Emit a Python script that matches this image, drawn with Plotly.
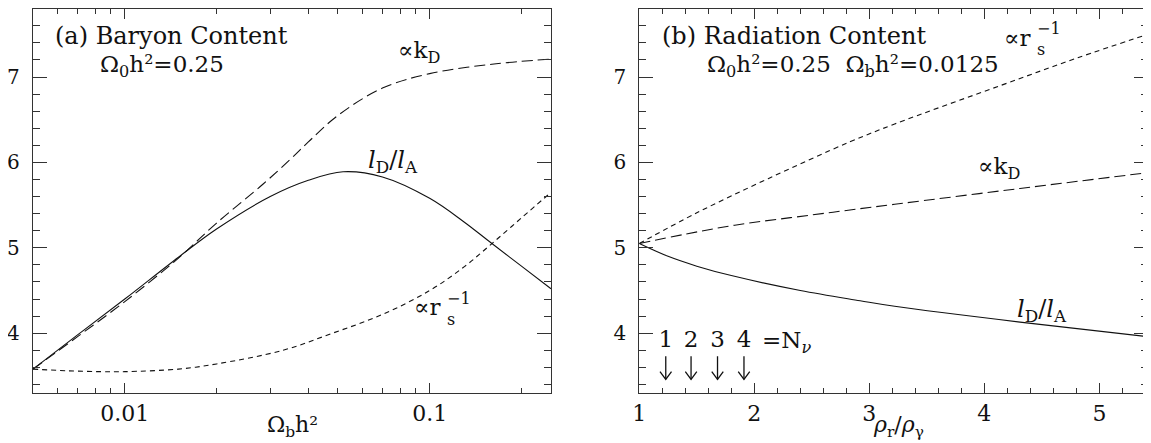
import plotly.graph_objects as go
import numpy as np

# ---------------- data: panel (a) Baryon content ----------------
a_ratio_x = [0.005, 0.007, 0.01, 0.015, 0.02, 0.03, 0.04, 0.052, 0.07, 0.1, 0.13, 0.16, 0.2, 0.25]
a_ratio_y = [3.58, 3.98, 4.40, 4.89, 5.22, 5.60, 5.79, 5.89, 5.83, 5.58, 5.30, 5.05, 4.785, 4.52]

a_kd_x = [0.005, 0.007, 0.01, 0.015, 0.02, 0.0285, 0.035, 0.04, 0.05, 0.07, 0.1, 0.16, 0.25]
a_kd_y = [3.58, 3.96, 4.37, 4.88, 5.29, 5.75, 6.04, 6.24, 6.55, 6.87, 7.04, 7.15, 7.21]

a_rs_x = [0.005, 0.0065, 0.0083, 0.01, 0.015, 0.02, 0.033, 0.048, 0.07, 0.1, 0.13, 0.16, 0.2, 0.25]
a_rs_y = [3.58, 3.56, 3.55, 3.55, 3.58, 3.64, 3.80, 4.00, 4.22, 4.50, 4.78, 5.05, 5.35, 5.65]

# ---------------- data: panel (b) Radiation content ----------------
b_rs_x = [1.0, 1.5, 2.12, 2.83, 3.22, 4.14, 4.8, 5.42]
b_rs_y = [5.05, 5.41, 5.81, 6.24, 6.45, 6.90, 7.22, 7.50]

b_kd_x = [1.0, 1.4, 1.83, 2.5, 3.22, 4.31, 5.42]
b_kd_y = [5.05, 5.16, 5.265, 5.385, 5.51, 5.695, 5.88]

b_ratio_x = [1.0, 1.25, 1.5, 1.8, 2.4, 2.92, 3.22, 4.31, 5.42]
b_ratio_y = [5.05, 4.90, 4.785, 4.675, 4.50, 4.38, 4.315, 4.13, 3.96]

nnu_labels = ["1", "2", "3", "4"]
nnu_x = [1.23, 1.45, 1.68, 1.91]

a_xrange = [0.005, 0.25]
b_xrange = [1.0, 5.42]
yrange = [3.3, 7.8]

# ---------------- geometry (page body has an 8px margin) ----------------
OFF = 8
W, H = 1151 - OFF, 443 - OFF

FONT = "DejaVu Serif"
LINE = "#111111"
FRAME = "#333333"

def fx(px):
    return (px - OFF) / W

def fy(py):
    return 1 - (py - OFF) / H

fig = go.Figure()

short_dash = "5px,4px"
long_dash = "11px,5px"
lw = 1.1

fig.add_trace(go.Scatter(x=a_ratio_x, y=a_ratio_y, mode="lines", line=dict(color=LINE, width=lw, shape="spline"), xaxis="x", yaxis="y"))
fig.add_trace(go.Scatter(x=a_kd_x, y=a_kd_y, mode="lines", line=dict(color=LINE, width=lw, dash=long_dash, shape="spline"), xaxis="x", yaxis="y"))
fig.add_trace(go.Scatter(x=a_rs_x, y=a_rs_y, mode="lines", line=dict(color=LINE, width=lw, dash=short_dash, shape="spline"), xaxis="x", yaxis="y"))

fig.add_trace(go.Scatter(x=b_rs_x, y=b_rs_y, mode="lines", line=dict(color=LINE, width=lw, dash=short_dash, shape="spline"), xaxis="x2", yaxis="y2"))
fig.add_trace(go.Scatter(x=b_kd_x, y=b_kd_y, mode="lines", line=dict(color=LINE, width=lw, dash=long_dash, shape="spline"), xaxis="x2", yaxis="y2"))
fig.add_trace(go.Scatter(x=b_ratio_x, y=b_ratio_y, mode="lines", line=dict(color=LINE, width=lw, shape="spline"), xaxis="x2", yaxis="y2"))

# N_nu labels
fig.add_trace(go.Scatter(x=nnu_x, y=[3.91] * 4, mode="text", text=nnu_labels,
                         textfont=dict(family=FONT, size=23, color=LINE), xaxis="x2", yaxis="y2"))

# thin open arrows under each N_nu label (built from nnu_x)
shaft_top, tip, head_h, head_w = 3.73, 3.46, 0.09, 0.05
ax_, ay_ = [], []
for xv in nnu_x:
    ax_ += [xv, xv, None, xv - head_w, xv, xv + head_w, None]
    ay_ += [shaft_top, tip, None, tip + head_h, tip, tip + head_h, None]
fig.add_trace(go.Scatter(x=ax_, y=ay_, mode="lines", line=dict(color=LINE, width=1.3),
                         xaxis="x2", yaxis="y2", hoverinfo="skip"))

dom_a = [fx(33), fx(551)]
dom_b = [fx(639.3), fx(1147.7)]
dom_y = [fy(393), min(fy(8.7), 1.0)]

tickfont = dict(family=FONT, size=22, color="#111")
ytickfont = dict(family=FONT, size=20, color="#111")

a_minor = [v * 10 ** e for e in (-3, -2, -1) for v in range(2, 10)]
a_minor = [v for v in a_minor if a_xrange[0] <= v <= a_xrange[1] and abs(v - 0.01) > 1e-9 and abs(v - 0.1) > 1e-9]

common = dict(ticks="inside", showline=True, linecolor=FRAME, linewidth=1.3, mirror="ticks",
              tickcolor=FRAME, tickwidth=1.2, showgrid=False, zeroline=False,
              automargin=False)

fig.update_layout(
    width=W, height=H,
    margin=dict(l=0, r=0, t=0, b=0, autoexpand=False),
    paper_bgcolor="white", plot_bgcolor="white",
    showlegend=False,
    xaxis=dict(type="log", domain=dom_a, range=[np.log10(a_xrange[0]), np.log10(a_xrange[1])],
               tickvals=[0.01, 0.1], ticktext=["0.01", "0.1"], ticklen=10, tickfont=tickfont,
               minor=dict(tickvals=a_minor, ticklen=5, tickcolor=FRAME, tickwidth=1.2, ticks="inside"),
               ticklabelstandoff=0, anchor="y", **common),
    yaxis=dict(domain=dom_y, range=yrange, tickvals=[4, 5, 6, 7], ticklen=14, tickfont=ytickfont,
               minor=dict(dtick=0.2, ticklen=7, tickcolor=FRAME, tickwidth=1.2, ticks="inside"),
               ticklabelstandoff=8, anchor="x", **common),
    xaxis2=dict(domain=dom_b, range=b_xrange, tickvals=[1, 2, 3, 4, 5], ticklen=10, tickfont=tickfont,
                minor=dict(dtick=0.2, ticklen=5, tickcolor=FRAME, tickwidth=1.2, ticks="inside"),
                ticklabelstandoff=0, anchor="y2", **common),
    yaxis2=dict(domain=dom_y, range=yrange, tickvals=[4, 5, 6, 7], ticklen=14, tickfont=ytickfont,
                minor=dict(dtick=0.2, ticklen=7, tickcolor=FRAME, tickwidth=1.2, ticks="inside"),
                ticklabelstandoff=8, anchor="x2", **common),
)

def label(text, x, y, size=23, xanchor="left"):
    fig.add_annotation(text=text, x=fx(x), y=fy(y), xref="paper", yref="paper", showarrow=False,
                       xanchor=xanchor, yanchor="middle", font=dict(family=FONT, size=size, color="#111"))

def rs_label(x, y):
    # "∝ r" with stacked subscript s and superscript −1
    label("∝r", x, y)
    label("s", x + 33, y + 12, size=16)
    label("−1", x + 33, y - 9, size=16)

# panel (a)
label("(a) Baryon Content", 53, 36, size=24)
label("Ω<sub>0</sub>h²=0.25", 98, 66)
label("∝k<sub>D</sub>", 396, 52)
label("<i>l</i><sub>D</sub>/<i>l</i><sub>A</sub>", 366, 161, size=24)
rs_label(412, 307)
label("Ω<sub>b</sub>h²", 292, 426, size=22, xanchor="center")

# panel (b)
label("(b) Radiation Content", 660, 36, size=24)
label("Ω<sub>0</sub>h²=0.25  Ω<sub>b</sub>h²=0.0125", 705, 66)
rs_label(1002, 38)
label("∝k<sub>D</sub>", 976, 168)
label("<i>l</i><sub>D</sub>/<i>l</i><sub>A</sub>", 1015, 310, size=24)
label("=N<sub><i>ν</i></sub>", 760, 342)
label("<i>ρ</i><sub>r</sub>/<i>ρ</i><sub>γ</sub>", 899, 426, size=22, xanchor="center")

fig.write_html("out.html")
